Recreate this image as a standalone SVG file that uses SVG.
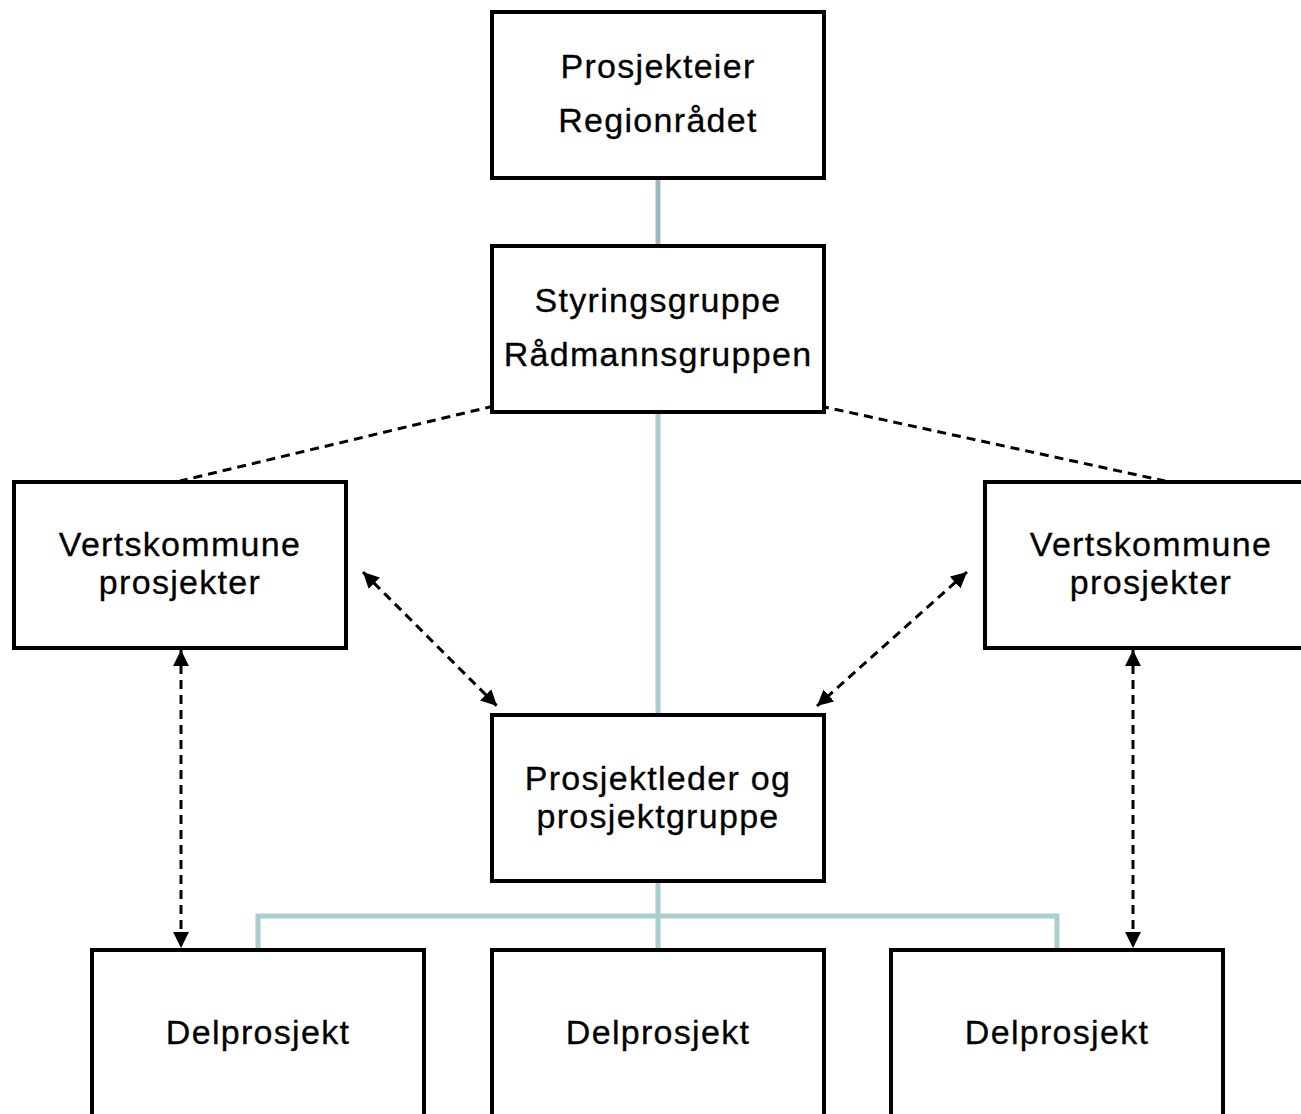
<svg xmlns="http://www.w3.org/2000/svg" width="1301" height="1114" viewBox="0 0 1301 1114">
<style>
.box{fill:#fff;stroke:#000;stroke-width:4}
.t{font-family:"Liberation Sans",Arial,sans-serif;font-size:34px;letter-spacing:1.3px;fill:#000;stroke:#000;stroke-width:0.3px;text-anchor:middle}
.solid1{stroke:#9ab8bd;stroke-width:5;fill:none}
.solid2{stroke:#a8ced0;stroke-width:5;fill:none}
.dash{stroke:#000;stroke-width:3;stroke-dasharray:9 6;fill:none}
</style>
<defs>
<marker id="ah" viewBox="0 0 10 10" refX="10" refY="5" markerWidth="5.3" markerHeight="5.3" markerUnits="strokeWidth" orient="auto-start-reverse">
<path d="M0,0 L10,5 L0,10 z" fill="#000"/>
</marker>
</defs>
<g id="connectors">
<line class="solid1" x1="658" y1="178" x2="658" y2="246"/>
<line class="solid2" x1="658" y1="412" x2="658" y2="715"/>
<path class="solid2" d="M658,881 V950 M258,950 V916 H1057 V950"/>
<line class="dash" x1="494" y1="406" x2="180" y2="481"/>
<line class="dash" x1="820" y1="406" x2="1165" y2="481"/>
<line class="dash" x1="363" y1="572" x2="497" y2="706" marker-start="url(#ah)" marker-end="url(#ah)"/>
<line class="dash" x1="967" y1="572" x2="817" y2="706" marker-start="url(#ah)" marker-end="url(#ah)"/>
<line class="dash" x1="181" y1="650" x2="181" y2="948" marker-start="url(#ah)" marker-end="url(#ah)"/>
<line class="dash" x1="1133" y1="650" x2="1133" y2="948" marker-start="url(#ah)" marker-end="url(#ah)"/>
</g>
<g id="prosjekteier">
<rect class="box" x="492" y="12" width="332" height="166"/>
<text class="t" x="658" y="78">Prosjekteier</text>
<text class="t" x="658" y="132">Regionrådet</text>
</g>
<g id="styringsgruppe">
<rect class="box" x="492" y="246" width="332" height="166"/>
<text class="t" x="658" y="312">Styringsgruppe</text>
<text class="t" x="658" y="366">Rådmannsgruppen</text>
</g>
<g id="vert-left">
<rect class="box" x="14" y="482" width="332" height="166"/>
<text class="t" x="180" y="556">Vertskommune</text>
<text class="t" x="180" y="594">prosjekter</text>
</g>
<g id="vert-right">
<rect class="box" x="985" y="482" width="332" height="166"/>
<text class="t" x="1151" y="556">Vertskommune</text>
<text class="t" x="1151" y="594">prosjekter</text>
</g>
<g id="prosjektleder">
<rect class="box" x="492" y="715" width="332" height="166"/>
<text class="t" x="658" y="790">Prosjektleder og</text>
<text class="t" x="658" y="828">prosjektgruppe</text>
</g>
<g id="delprosjekt1">
<rect class="box" x="92" y="950" width="332" height="170"/>
<text class="t" x="258" y="1044">Delprosjekt</text>
</g>
<g id="delprosjekt2">
<rect class="box" x="492" y="950" width="332" height="170"/>
<text class="t" x="658" y="1044">Delprosjekt</text>
</g>
<g id="delprosjekt3">
<rect class="box" x="891" y="950" width="332" height="170"/>
<text class="t" x="1057" y="1044">Delprosjekt</text>
</g>
</svg>
